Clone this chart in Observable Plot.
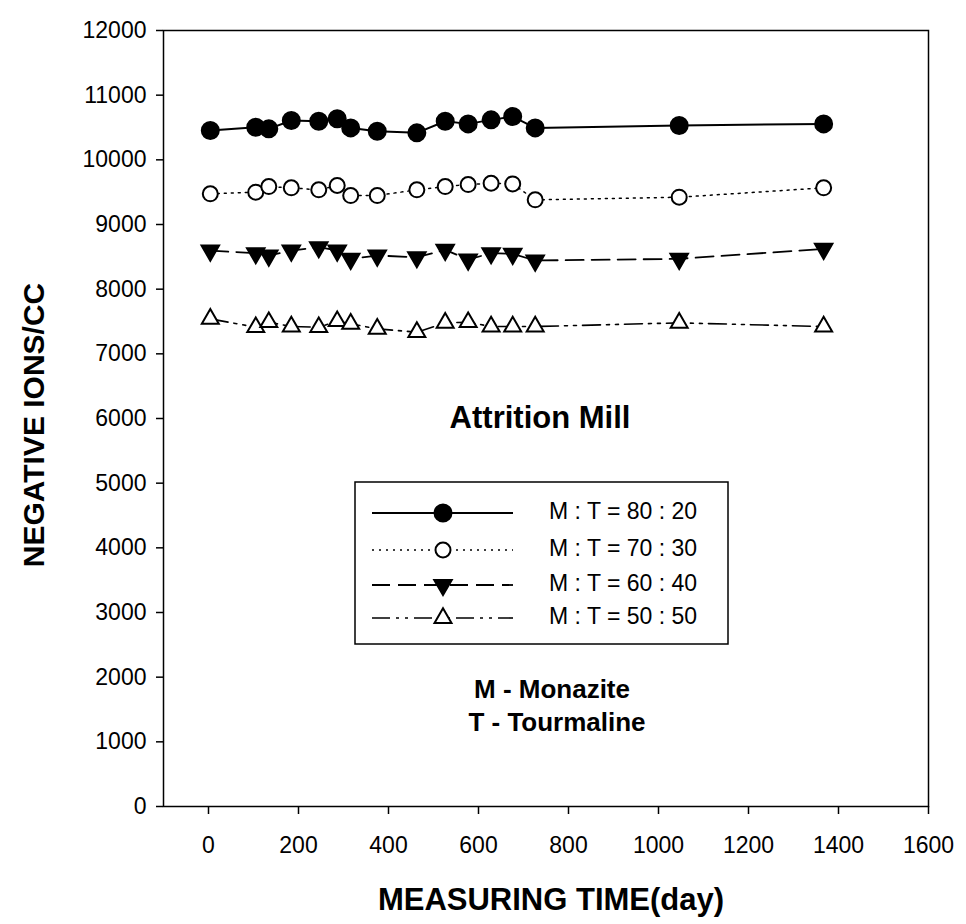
<!DOCTYPE html>
<html><head><meta charset="utf-8">
<script src="https://cdn.jsdelivr.net/npm/d3@7"></script>
<script src="https://cdn.jsdelivr.net/npm/@observablehq/plot@0.6"></script>
<style>body{margin:0;background:#fff;} #chart{width:966px;height:924px;}</style>
</head><body><div id="chart"></div>
<script>
const days = [4, 105, 134, 184, 245, 286, 316, 375, 463, 526, 577, 628, 676, 726, 1046, 1367];
const s8020 = [10453, 10505, 10479, 10608, 10597, 10634, 10494, 10442, 10417, 10597, 10556, 10618, 10669, 10494, 10530, 10556];
const s7030 = [9474, 9500, 9587, 9567, 9536, 9603, 9448, 9448, 9536, 9587, 9618, 9638, 9628, 9381, 9422, 9567];
const s6040 = [8597, 8556, 8520, 8597, 8649, 8597, 8469, 8520, 8494, 8608, 8458, 8556, 8546, 8443, 8469, 8623];
const s5050 = [7541, 7412, 7489, 7422, 7412, 7505, 7464, 7386, 7335, 7479, 7489, 7422, 7422, 7422, 7479, 7422];
const seriesNames = ["M : T = 80 : 20", "M : T = 70 : 30", "M : T = 60 : 40", "M : T = 50 : 50"];
const xTicks = [0, 200, 400, 600, 800, 1000, 1200, 1400, 1600];
const yTicks = [0, 1000, 2000, 3000, 4000, 5000, 6000, 7000, 8000, 9000, 10000, 11000, 12000];

const allValues = [s8020, s7030, s6040, s5050];
const styles = [
  {symbol: "circle", rotate: 0, fill: "black", r: 8.5, dash: null, lw: 2},
  {symbol: "circle", rotate: 0, fill: "white", r: 7.5, dash: "2,5", lw: 1.5},
  {symbol: "triangle", rotate: 180, fill: "black", r: 6.5, dash: "18,8", lw: 1.8},
  {symbol: "triangle", rotate: 0, fill: "white", r: 6.3, dash: "18,6,3,6,3,6", lw: 1.6}
];

const marks = [
  Plot.frame({stroke: "black", strokeWidth: 1.5}),
  Plot.axisX(xTicks, {tickSize: 8, tickPadding: 22, label: null, tickFormat: d => String(d), strokeWidth: 1.5}),
  Plot.axisY(yTicks, {tickSize: 7, tickPadding: 10, label: null, tickFormat: d => String(d), strokeWidth: 1.5})
];
allValues.forEach((vals, i) => {
  const rows = days.map((d, j) => ({day: d, v: vals[j]}));
  const st = styles[i];
  marks.push(Plot.line(rows, {x: "day", y: "v", stroke: "black", strokeWidth: st.lw, strokeDasharray: st.dash || undefined}));
  marks.push(Plot.dot(rows, {x: "day", y: "v", symbol: st.symbol, r: st.r, fill: st.fill, stroke: "black", strokeWidth: 2, rotate: st.rotate}));
});

const chart = Plot.plot({
  width: 966, height: 924,
  marginLeft: 163, marginRight: 38, marginTop: 30, marginBottom: 118,
  x: {domain: [-100, 1600]},
  y: {domain: [0, 12000]},
  style: {fontFamily: "'Liberation Sans', Arial, sans-serif", fontSize: "23px", color: "black", background: "white", overflow: "visible"},
  marks
});
document.getElementById("chart").appendChild(chart);

const svg = d3.select(chart);
const font = "'Liberation Sans', Arial, sans-serif";
const g = svg.append("g").attr("font-family", font).attr("fill", "black");

// axis titles
g.append("text").attr("transform", "translate(36,425) rotate(-90)")
  .attr("text-anchor", "middle").attr("dominant-baseline", "middle")
  .attr("font-weight", "bold").attr("font-size", 30).text("NEGATIVE IONS/CC");
g.append("text").attr("x", 551).attr("y", 910).attr("text-anchor", "middle")
  .attr("font-weight", "bold").attr("font-size", 31).text("MEASURING TIME(day)");

// annotations
g.append("text").attr("x", 540).attr("y", 428).attr("text-anchor", "middle")
  .attr("font-weight", "bold").attr("font-size", 31).text("Attrition Mill");
g.append("text").attr("x", 552).attr("y", 698).attr("text-anchor", "middle")
  .attr("font-weight", "bold").attr("font-size", 26).text("M - Monazite");
g.append("text").attr("x", 557).attr("y", 731).attr("text-anchor", "middle")
  .attr("font-weight", "bold").attr("font-size", 26).text("T - Tourmaline");

// legend
const lg = g.append("g");
lg.append("rect").attr("x", 355).attr("y", 482).attr("width", 373).attr("height", 162)
  .attr("fill", "white").attr("stroke", "black").attr("stroke-width", 1.5);
const rowY = [513, 550, 585, 618];
styles.forEach((st, i) => {
  const y = rowY[i];
  lg.append("line").attr("x1", 372).attr("x2", 513).attr("y1", y).attr("y2", y)
    .attr("stroke", "black").attr("stroke-width", st.lw).attr("stroke-dasharray", st.dash);
  const sym = st.symbol === "circle" ? d3.symbolCircle : d3.symbolTriangle;
  lg.append("path").attr("d", d3.symbol(sym, st.r * st.r * Math.PI)())
    .attr("transform", `translate(443,${y}) rotate(${st.rotate})`)
    .attr("fill", st.fill).attr("stroke", "black").attr("stroke-width", 2);
  lg.append("text").attr("x", 549).attr("y", y).attr("text-anchor", "start")
    .attr("dominant-baseline", "middle").attr("font-size", 23).text(seriesNames[i]);
});
</script>
</body></html>
